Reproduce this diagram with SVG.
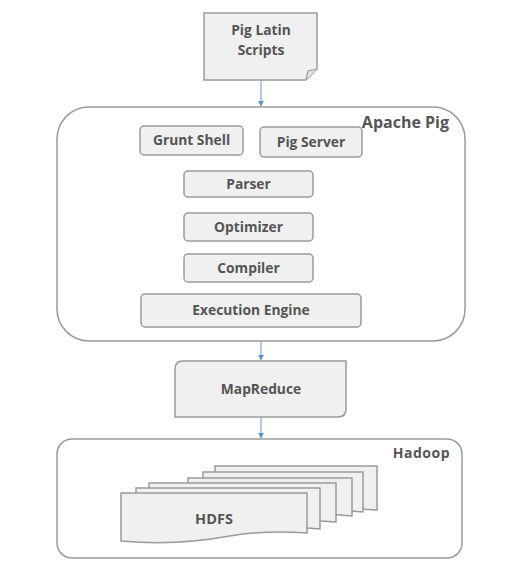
<svg xmlns="http://www.w3.org/2000/svg" width="529" height="574" viewBox="0 0 529 574">
<style>
.box{fill:#f0f0f0;stroke:#9a9a9a;stroke-width:1.5}
.cont{fill:#ffffff;stroke:#9a9a9a;stroke-width:1.5}
.t{font-family:"Open Sans","Liberation Sans",sans-serif;font-weight:bold;font-size:13.8px;fill:#555555;text-anchor:middle}
.lbl{font-family:"Open Sans","Liberation Sans",sans-serif;font-weight:bold;font-size:14px;fill:#555555;text-anchor:end}
.arr{stroke:#7fa8d0;stroke-width:1.2;fill:none;marker-end:url(#ah)}
</style>
<defs>
<marker id="ah" viewBox="0 0 10 10" refX="9" refY="5" markerWidth="5" markerHeight="5" orient="auto">
<path d="M0,0 L10,5 L0,10 z" fill="#5b8fc4"/>
</marker>
</defs>
<rect width="529" height="574" fill="#ffffff"/>
<g id="pig-latin-scripts">
<path class="box" d="M204,13 H317 V69 L306,80 H204 Z"/>
<path d="M306,80 L308,71 L317,69" fill="#e4e4e4" stroke="#9a9a9a" stroke-width="1.2"/>
<text class="t" x="261" y="35" style="font-size:13.8px">Pig Latin</text>
<text class="t" x="261" y="55" style="font-size:13.8px">Scripts</text>
</g>
<g id="apache-pig">
<rect class="cont" x="57" y="107" width="408" height="234" rx="32" ry="32"/>
<text class="lbl" x="449" y="128" style="font-size:16px">Apache Pig</text>
</g>
<g id="grunt-shell">
<rect class="box" x="140" y="126" width="103" height="29" rx="4"/>
<text class="t" x="191.5" y="145">Grunt Shell</text>
</g>
<g id="pig-server">
<rect class="box" x="260" y="127" width="102" height="30" rx="4"/>
<text class="t" x="311" y="147">Pig Server</text>
</g>
<g id="parser">
<rect class="box" x="184" y="171" width="129" height="26" rx="4"/>
<text class="t" x="248.5" y="189">Parser</text>
</g>
<g id="optimizer">
<rect class="box" x="184" y="213" width="129" height="28" rx="4"/>
<text class="t" x="248.5" y="232">Optimizer</text>
</g>
<g id="compiler">
<rect class="box" x="184" y="254" width="129" height="28" rx="4"/>
<text class="t" x="248.5" y="273">Compiler</text>
</g>
<g id="execution-engine">
<rect class="box" x="141" y="294" width="220" height="33" rx="4"/>
<text class="t" x="251" y="315">Execution Engine</text>
</g>
<g id="mapreduce">
<path class="box" d="M183,361 H346 V409 Q346,417 338,417 H175 V369 Q175,361 183,361 Z"/>
<text class="t" x="261" y="394">MapReduce</text>
</g>
<g id="hadoop">
<rect class="cont" x="57" y="439" width="405" height="119" rx="15" ry="15"/>
<text class="lbl" x="450" y="458" style="letter-spacing:0.5px">Hadoop</text>
</g>
<g id="hdfs">
<path class="box" d="M215,466 H377 V510 Q330,506 300,512 Q260,520 215,514 Z"/>
<path class="box" d="M203,472 H363 V512 Q320,508 290,515 Q250,522 203,518 Z"/>
<path class="box" d="M188,478 H352 V516 Q310,512 280,519 Q240,526 188,522 Z"/>
<path class="box" d="M149,483 H336 V522 Q290,518 255,526 Q200,536 149,530 Z"/>
<path class="box" d="M136,488 H320 V529 Q275,525 240,532 Q185,541 136,537 Z"/>
<path class="box" d="M121,493 H307 V533 Q265,530 230,536 Q175,546 121,541 Z"/>
<text class="t" x="214" y="524" style="font-size:14.5px">HDFS</text>
</g>
<g id="connectors">
<line class="arr" x1="261" y1="80" x2="261" y2="106"/>
<line class="arr" x1="261" y1="341" x2="261" y2="360"/>
<line class="arr" x1="261" y1="417" x2="261" y2="438"/>
</g>
</svg>
